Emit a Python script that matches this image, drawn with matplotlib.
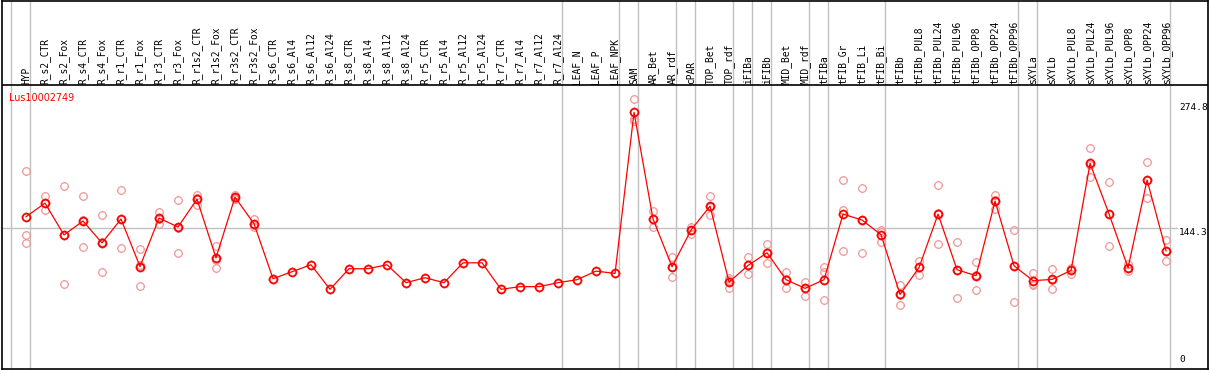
import matplotlib
matplotlib.use("Agg")
import matplotlib.pyplot as plt
from matplotlib.path import Path
import numpy as np

# ---------------- data ----------------
gene = "Lus10002749"
samples = ["HYP", "R_s2_CTR", "R_s2_Fox", "R_s4_CTR", "R_s4_Fox", "R_r1_CTR", "R_r1_Fox",
           "R_r3_CTR", "R_r3_Fox", "R_r1s2_CTR", "R_r1s2_Fox", "R_r3s2_CTR", "R_r3s2_Fox",
           "R_s6_CTR", "R_s6_Al4", "R_s6_Al12", "R_s6_Al24", "R_s8_CTR", "R_s8_Al4",
           "R_s8_Al12", "R_s8_Al24", "R_r5_CTR", "R_r5_Al4", "R_r5_Al12", "R_r5_Al24",
           "R_r7_CTR", "R_r7_Al4", "R_r7_Al12", "R_r7_Al24", "LEAF_N", "LEAF_P", "LEAF_NPK",
           "SAM", "AR_Bet", "AR_rdf", "cPAR", "TOP_Bet", "TOP_rdf", "iFIBa", "iFIBb",
           "MID_Bet", "MID_rdf", "tFIBa", "tFIB_Gr", "tFIB_Li", "tFIB_Bi", "tFIBb",
           "tFIBb_PUL8", "tFIBb_PUL24", "tFIBb_PUL96", "tFIBb_OPP8", "tFIBb_OPP24",
           "tFIBb_OPP96", "sXYLa", "sXYLb", "sXYLb_PUL8", "sXYLb_PUL24", "sXYLb_PUL96",
           "sXYLb_OPP8", "sXYLb_OPP24", "sXYLb_OPP96"]

means = [156.7, 172.1, 136.1, 151.9, 127.1, 154.1, 100.4, 155.2, 145.1, 176.6, 110.2,
         178.9, 148.8, 86.6, 94.5, 102.4, 74.6, 97.9, 97.9, 102.4, 82.1, 87.7, 82.1,
         104.6, 104.6, 74.6, 77.6, 77.6, 82.1, 85.5, 95.2, 92.6, 274.8, 154.1, 100.1,
         141.7, 168.7, 82.8, 101.6, 115.9, 85.5, 75.7, 85.5, 159.7, 153.0, 136.4, 68.8,
         99.3, 159.7, 96.7, 90.0, 174.4, 101.2, 84.4, 85.8, 95.9, 217.1, 159.7, 99.0,
         198.3, 118.1]

replicates = {
    0: [208.4, 136.1, 127.1], 1: [180.3, 172.1, 163.8], 2: [191.6, 136.5, 80.2],
    3: [180.0, 152.7, 123.0], 4: [158.6, 128.2, 94.5], 5: [186.7, 153.8, 121.8],
    6: [120.4, 102.1, 78.7], 7: [162.3, 154.5, 148.8], 8: [175.5, 143.9, 115.9],
    9: [181.8, 177.5, 170.5], 10: [124.1, 108.3, 98.2], 11: [181.8, 178.3, 176.6],
    12: [154.1, 147.2, 145.1],
    32: [290.2, 267.7, 265.0], 33: [163.1, 154.5, 144.7], 34: [111.7, 99.7, 88.9],
    35: [145.1, 142.0, 137.6], 36: [180.3, 167.6, 158.2], 37: [87.0, 85.7, 75.7],
    38: [111.7, 101.6, 91.5], 39: [126.3, 116.8, 104.6], 40: [94.5, 86.0, 76.0],
    41: [83.2, 76.4, 67.5], 42: [99.3, 94.0, 63.0], 43: [198.3, 163.8, 118.1],
    44: [189.3, 153.5, 116.2], 45: [141.3, 140.0, 127.8], 46: [79.9, 68.5, 57.4],
    47: [107.2, 99.5, 91.1], 48: [192.3, 160.8, 126.0], 49: [128.2, 96.7, 65.2],
    50: [105.7, 90.8, 73.5], 51: [181.1, 176.0, 166.0], 52: [141.7, 101.2, 60.7],
    53: [92.6, 81.0, 79.6], 54: [97.9, 85.0, 74.6], 55: [99.0, 96.5, 92.2],
    56: [234.0, 215.6, 201.7], 57: [195.7, 159.3, 124.1], 58: [103.5, 98.7, 94.8],
    59: [218.2, 198.3, 178.4], 60: [130.5, 117.4, 106.4],
}

# group boundaries (index of first sample of each group, plus end)
group_starts = [0, 1, 29, 32, 33, 35, 36, 38, 39, 40, 42, 43, 46, 53, 54, 61]
ytick_values = [274.8, 144.3, 0]
ytick_labels = ["274.8", "144.3", "0"]

# ---------------- figure ----------------
W, H = 1209, 370
fig = plt.figure(figsize=(W / 100, H / 100), dpi=100)
ax = fig.add_axes([1.5 / W, (H - 368.5) / H, 1206 / W, 368 / H])

x0 = -1.289
x1 = 62.18
ylo, yhi = -15.0, 401.4
ax.set_xlim(x0, x1)
ax.set_ylim(ylo, yhi)
ax.set_xticks([])
ax.set_yticks([])
for s in ax.spines.values():
    s.set_color("black")
    s.set_linewidth(1.2)

mono = "DejaVu Sans Mono"
grey = "#c0c0c0"
x = np.arange(len(samples))

# separator between label area and plot area
sep_v = 305.3
ax.axhline(sep_v, color="black", lw=1.2, zorder=5)

# vertical group separators
for g in group_starts:
    ax.axvline(g - 0.805, color=grey, lw=1.0, zorder=1)

# horizontal grid at middle value
ax.plot([x0, 60.58], [ytick_values[1]] * 2, color=grey, lw=1.0, zorder=1)

# custom marker: circle with tiny ticks
circ = Path.unit_circle()
ticks = Path([(0, 1), (0, 1.22), (0, -1), (0, -1.22), (1, 0), (1.22, 0), (-1, 0), (-1.22, 0)],
             [Path.MOVETO, Path.LINETO] * 4)
marker = Path.make_compound_path(circ, ticks)

# replicates
rx, ry = [], []
for i, vals in replicates.items():
    for v in vals:
        rx.append(i)
        ry.append(v)
ax.plot(rx, ry, linestyle="none", marker=marker, markersize=6.6, markerfacecolor="none",
        markeredgecolor="#f09a9a", markeredgewidth=0.9, zorder=3)

# mean line + markers
ax.plot(x, means, color="#ff0000", lw=0.9, zorder=4)
ax.plot(x, means, linestyle="none", marker=marker, markersize=6.8, markerfacecolor="none",
        markeredgecolor="#ff0000", markeredgewidth=1.3, zorder=6)

# sample labels
for i, lab in enumerate(samples):
    ax.text(i, 307.0, lab, rotation=90, ha="center", va="bottom", fontfamily=mono,
            fontsize=6.9, color="black")

# gene name
ax.text(-0.879, 296.5, gene, ha="left", va="top", fontfamily="DejaVu Sans",
        fontsize=6.9, color="#ff0000")

# y labels on the right
for k, (v, lab) in enumerate(zip(ytick_values, ytick_labels)):
    ax.text(60.68, v, lab, ha="left", va="bottom" if k == 0 else "top",
            fontfamily=mono, fontsize=6.8, color="black")

fig.savefig("out.png", dpi=100)
